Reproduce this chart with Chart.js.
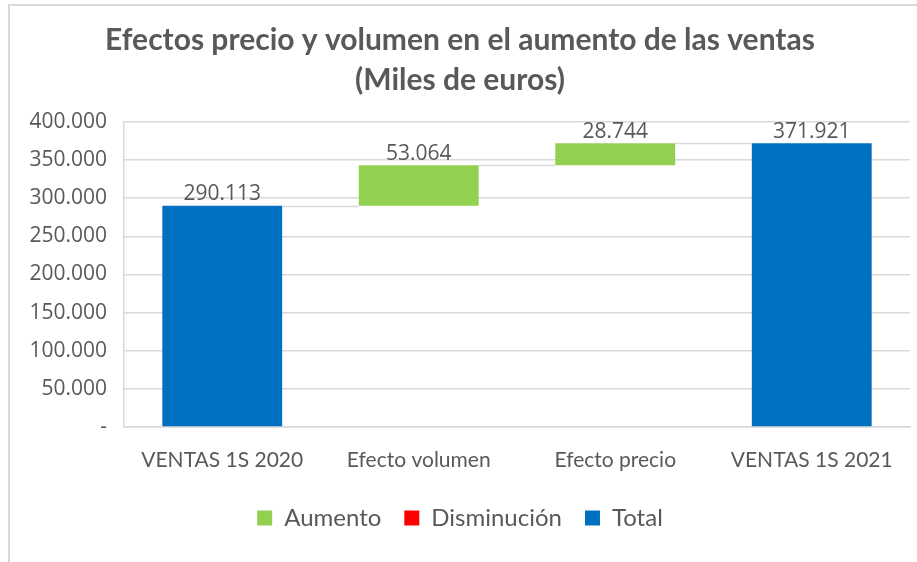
<!DOCTYPE html>
<html>
<head>
<meta charset="utf-8">
<script src="https://cdn.jsdelivr.net/npm/chart.js@4/dist/chart.umd.min.js"></script>
<style>
  html, body { margin: 0; padding: 0; background: #ffffff; }
  #frame { position: absolute; left: 8px; top: 4px; width: 907px; height: 556px;
           border-left: 2px solid #d9d9d9; border-top: 2px solid #d9d9d9; background: #fff; }
  #c { display: block; }
</style>
</head>
<body>
<div id="frame"><canvas id="c" width="907" height="556"></canvas></div>
<script>
// ---- data ----
const categories = ['VENTAS 1S 2020', 'Efecto volumen', 'Efecto precio', 'VENTAS 1S 2021'];
const values = [290113, 53064, 28744, 371921];
const kinds = ['total', 'up', 'up', 'total']; // total | up | down
const seriesNames = ['Aumento', 'Disminución', 'Total'];
const yTicks = [0, 50000, 100000, 150000, 200000, 250000, 300000, 350000, 400000];

// ---- build floating ranges ----
const upData = [], downData = [], totalData = [];
let running = 0;
values.forEach((v, i) => {
  if (kinds[i] === 'total') {
    totalData.push([0, v]); upData.push(null); downData.push(null); running = v;
  } else if (kinds[i] === 'up') {
    upData.push([running, running + v]); totalData.push(null); downData.push(null); running += v;
  } else {
    downData.push([running - v, running]); totalData.push(null); upData.push(null); running -= v;
  }
});

const fmt = v => Math.round(v).toString().replace(/\B(?=(\d{3})+(?!\d))/g, '.');
const TXT = '#595959';
const GRID = '#d9d9d9';

const waterfallExtras = {
  id: 'waterfallExtras',
  afterDatasetsDraw(chart) {
    const ctx = chart.ctx;
    const y = chart.scales.y;
    const bars = [];
    chart.data.datasets.forEach((ds, di) => {
      const meta = chart.getDatasetMeta(di);
      ds.data.forEach((d, i) => { if (d) bars[i] = { el: meta.data[i], d }; });
    });
    ctx.save();
    ctx.strokeStyle = GRID; ctx.lineWidth = 1.5;
    for (let i = 0; i < bars.length - 1; i++) {
      const a = bars[i], b = bars[i + 1];
      const level = kinds[i] === 'down' ? a.d[0] : a.d[1];
      const py = Math.round(y.getPixelForValue(level)) + 0.5;
      ctx.beginPath();
      ctx.moveTo(a.el.x + a.el.width / 2, py);
      ctx.lineTo(b.el.x - b.el.width / 2, py);
      ctx.stroke();
    }
    ctx.fillStyle = TXT;
    ctx.font = '21px "Open Sans"';
    ctx.textAlign = 'center';
    ctx.textBaseline = 'bottom';
    bars.forEach((b, i) => {
      const top = y.getPixelForValue(Math.max(b.d[0], b.d[1]));
      ctx.fillText(fmt(values[i]), b.el.x, top - 1);
    });
    ctx.restore();
  }
};

new Chart(document.getElementById('c'), {
  type: 'bar',
  data: {
    labels: categories,
    datasets: [
      { label: seriesNames[0], data: upData, backgroundColor: '#92D050' },
      { label: seriesNames[1], data: downData, backgroundColor: '#FF0000' },
      { label: seriesNames[2], data: totalData, backgroundColor: '#0070C0' }
    ]
  },
  options: {
    responsive: false,
    animation: false,
    events: [],
    layout: { padding: { left: 0, right: 7, top: 0, bottom: 22 } },
    datasets: { bar: { categoryPercentage: 1, barPercentage: 0.61, borderWidth: 0 } },
    scales: {
      x: {
        stacked: true,
        grid: { display: false, drawTicks: false },
        border: { display: true, color: GRID, width: 1.5 },
        ticks: { color: TXT, font: { family: 'Lato', size: 21 }, padding: 21, maxRotation: 0 },
        afterFit(s) { s.height = 56; }
      },
      y: {
        stacked: false,
        min: 0, max: 400000,
        afterBuildTicks(s) { s.ticks = yTicks.map(v => ({ value: v })); },
        grid: { color: GRID, lineWidth: 1.5, drawTicks: false },
        border: { display: true, color: GRID, width: 1.5 },
        ticks: { color: TXT, font: { family: 'Open Sans', size: 21 }, padding: 17,
                 callback: v => v === 0 ? '-' : fmt(v) },
        afterFit(s) { s.width = 114; }
      }
    },
    plugins: {
      tooltip: { enabled: false },
      title: {
        display: true,
        text: ['Efectos precio y volumen en el aumento de las ventas', '(Miles de euros)'],
        color: TXT,
        font: { family: 'Lato', size: 30, weight: 'bold', lineHeight: 1.33 },
        padding: { top: 14, bottom: 22 }
      },
      legend: {
        position: 'bottom',
        labels: { color: TXT, font: { family: 'Lato', size: 24 }, boxWidth: 15, boxHeight: 15, padding: 23 }
      }
    }
  },
  plugins: [waterfallExtras]
});
</script>
</body>
</html>
